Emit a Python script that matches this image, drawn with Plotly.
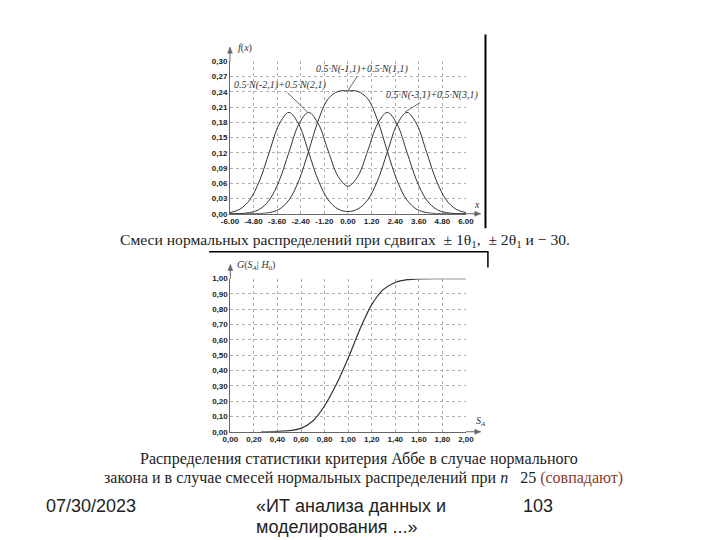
import plotly.graph_objects as go

# ---------------- data ----------------
x_top = [-6.0, -5.5, -5.0, -4.5, -4.0, -3.5, -3.0, -2.5, -2.0, -1.5, -1.0, -0.5,
         0.0, 0.5, 1.0, 1.5, 2.0, 2.5, 3.0, 3.5, 4.0, 4.5, 5.0, 5.5, 6.0]
mix1 = [0.0, 0.0, 0.0001, 0.0004, 0.0022, 0.0088, 0.0271, 0.0652, 0.1232, 0.1848, 0.2265, 0.2408,
        0.2420, 0.2408, 0.2265, 0.1848, 0.1232, 0.0652, 0.0271, 0.0088, 0.0022, 0.0004, 0.0001, 0.0, 0.0]
mix2 = [0.0001, 0.0004, 0.0022, 0.0088, 0.0270, 0.0648, 0.1210, 0.1760, 0.1995, 0.1765, 0.1232, 0.0735,
        0.0540, 0.0735, 0.1232, 0.1765, 0.1995, 0.1760, 0.1210, 0.0648, 0.0270, 0.0088, 0.0022, 0.0004, 0.0001]
mix3 = [0.0022, 0.0088, 0.0270, 0.0648, 0.1210, 0.1760, 0.1995, 0.1760, 0.1210, 0.0648, 0.0271, 0.0092,
        0.0044, 0.0092, 0.0271, 0.0648, 0.1210, 0.1760, 0.1995, 0.1760, 0.1210, 0.0648, 0.0270, 0.0088, 0.0022]

top_xticks = [-6.0, -4.8, -3.6, -2.4, -1.2, 0.0, 1.2, 2.4, 3.6, 4.8, 6.0]
top_xlabels = ["-6.00", "-4.80", "-3.60", "-2.40", "-1.20", "0.00", "1.20", "2.40", "3.60", "4.80", "6.00"]
top_yticks = [0.0, 0.03, 0.06, 0.09, 0.12, 0.15, 0.18, 0.21, 0.24, 0.27, 0.30]
top_ylabels = ["0,00", "0,03", "0,06", "0,09", "0,12", "0,15", "0,18", "0,21", "0,24", "0,27", "0,30"]

x_bot = [0.26, 0.30, 0.40, 0.50, 0.60, 0.70, 0.80, 0.90, 1.00, 1.10, 1.20, 1.30, 1.40, 1.50, 1.60, 1.80, 2.00]
g_bot = [0.0, 0.0, 0.002, 0.007, 0.022, 0.07, 0.17, 0.31, 0.48, 0.67, 0.83, 0.93, 0.975, 0.993, 0.999, 1.0, 1.0]

bot_xticks = [0.0, 0.2, 0.4, 0.6, 0.8, 1.0, 1.2, 1.4, 1.6, 1.8, 2.0]
bot_xlabels = ["0,00", "0,20", "0,40", "0,60", "0,80", "1,00", "1,20", "1,40", "1,60", "1,80", "2,00"]
bot_yticks = [0.0, 0.1, 0.2, 0.3, 0.4, 0.5, 0.6, 0.7, 0.8, 0.9, 1.0]
bot_ylabels = ["0,00", "0,10", "0,20", "0,30", "0,40", "0,50", "0,60", "0,70", "0,80", "0,90", "1,00"]

W, H = 720, 540
def px(x): return x / W
def py(y): return 1 - y / H

LINE = "#333333"
fig = go.Figure()
for ys in (mix1, mix2, mix3):
    fig.add_trace(go.Scatter(x=x_top, y=ys, mode="lines", line=dict(color=LINE, width=1, shape="spline", smoothing=1),
                             xaxis="x", yaxis="y", showlegend=False, hoverinfo="skip"))
fig.add_trace(go.Scatter(x=x_bot, y=g_bot, mode="lines", line=dict(color=LINE, width=1.2, shape="spline", smoothing=0.8),
                         xaxis="x2", yaxis="y2", showlegend=False, hoverinfo="skip"))

tickfont = dict(family="Liberation Sans, Arial", size=8, color="#222222", weight="bold")
grid = dict(showgrid=True, gridcolor="#b0b0b0", griddash="dot", gridwidth=1,
            showline=True, linecolor="#666666", linewidth=1, zeroline=False,
            ticks="", tickfont=tickfont, fixedrange=True)

fig.update_layout(
    width=W, height=H, margin=dict(l=0, r=0, t=0, b=0),
    paper_bgcolor="white", plot_bgcolor="white", showlegend=False,
    xaxis=dict(domain=[px(226.3), px(468)], range=[-6, 6], tickvals=top_xticks, ticktext=top_xlabels,
               anchor="y", **grid),
    yaxis=dict(domain=[py(213.3), py(58.3)], range=[0, 0.3], tickvals=top_yticks, ticktext=top_ylabels,
               anchor="x", **grid),
    xaxis2=dict(domain=[px(226.7), px(468)], range=[0, 2], tickvals=bot_xticks, ticktext=bot_xlabels,
                anchor="y2", **grid),
    yaxis2=dict(domain=[py(435), py(279.3)], range=[0, 1], tickvals=bot_yticks, ticktext=bot_ylabels,
                anchor="x2", **grid),
)

ann = []
lab = dict(family="Liberation Serif, Times New Roman", size=10, color="#333333")
ann += [
    dict(x=px(233), y=py(45), xref="paper", yref="paper", text="<i>f</i>(<i>x</i>)", showarrow=False,
         xanchor="left", yanchor="middle", font=lab),
    dict(x=px(479), y=py(204), xref="paper", yref="paper", text="<i>x</i>", showarrow=False,
         xanchor="center", yanchor="middle", font=lab),
    dict(x=px(231), y=py(266), xref="paper", yref="paper", text="<i>G</i>(<i>S<sub>A</sub></i>| <i>H</i><sub>0</sub>)",
         showarrow=False, xanchor="left", yanchor="middle", font=lab),
    dict(x=px(483), y=py(425), xref="paper", yref="paper", text="<i>S<sub>A</sub></i>", showarrow=False,
         xanchor="center", yanchor="middle", font=lab),
]

curve_font = dict(family="Liberation Serif, Times New Roman", size=10, color="#333333")
for (cx, cy, txt, ax, ay) in [
    (0.0, 0.242, "<i>0.5·N(-1,1)+0.5·N(1,1)</i>", 14, -22),
    (-2.05, 0.2, "<i>0.5·N(-2,1)+0.5·N(2,1)</i>", -28, -27),
    (2.9, 0.2, "<i>0.5·N(-3,1)+0.5·N(3,1)</i>", 27, -17),
]:
    ann.append(dict(x=cx, y=cy, xref="x", yref="y", text=txt, showarrow=True, arrowhead=0,
                    arrowwidth=0.8, arrowcolor="#444444", ax=ax, ay=ay, font=curve_font))

cap = dict(family="Liberation Serif, Times New Roman", size=16, color="#222222")
ann += [
    dict(x=px(112), y=py(241), xref="paper", yref="paper", xanchor="left", yanchor="middle", showarrow=False,
         text="Смеси нормальных распределений при сдвигах  ± 1θ<sub>1</sub>,  ± 2θ<sub>1</sub> и − 30.",
         font=dict(family="Liberation Serif, Times New Roman", size=15.6, color="#222222")),
    dict(x=px(132), y=py(463), xref="paper", yref="paper", xanchor="left", yanchor="middle", showarrow=False,
         text="Распределения статистики критерия Аббе в случае нормального", font=cap),
    dict(x=px(95), y=py(482), xref="paper", yref="paper", xanchor="left", yanchor="middle", showarrow=False,
         text="закона и в случае смесей нормальных распределений при <i>n</i>   25 "
              "<span style='color:#8b3a2a'>(совпадают)</span>", font=cap),
]

foot = dict(family="Liberation Sans, Arial", size=18, color="#222222")
ann += [
    dict(x=px(36), y=py(511), xref="paper", yref="paper", xanchor="left", yanchor="middle", showarrow=False,
         text="07/30/2023", font=foot),
    dict(x=px(251), y=py(511), xref="paper", yref="paper", xanchor="left", yanchor="middle", showarrow=False,
         text="«ИТ анализа данных и", font=foot),
    dict(x=px(251), y=py(532), xref="paper", yref="paper", xanchor="left", yanchor="middle", showarrow=False,
         text="моделирования ...»", font=foot),
    dict(x=px(524), y=py(511), xref="paper", yref="paper", xanchor="left", yanchor="middle", showarrow=False,
         text="103", font=foot),
]
fig.update_layout(annotations=ann)

AX = "#666666"
def hline_arrow(x0, x1, y):
    return [dict(type="line", xref="paper", yref="paper", x0=px(x0), x1=px(x1), y0=py(y), y1=py(y),
                 line=dict(color=AX, width=1)),
            dict(type="path", xref="paper", yref="paper",
                 path=f"M {px(x1)},{py(y)} L {px(x1-6)},{py(y-2.5)} L {px(x1-6)},{py(y+2.5)} Z",
                 fillcolor=AX, line=dict(color=AX, width=0.5))]
def vline_arrow(x, y0, y1):
    return [dict(type="line", xref="paper", yref="paper", x0=px(x), x1=px(x), y0=py(y0), y1=py(y1),
                 line=dict(color=AX, width=1)),
            dict(type="path", xref="paper", yref="paper",
                 path=f"M {px(x)},{py(y1)} L {px(x-2.5)},{py(y1+6)} L {px(x+2.5)},{py(y1+6)} Z",
                 fillcolor=AX, line=dict(color=AX, width=0.5))]

shapes = []
shapes += hline_arrow(468, 483, 213.3)
shapes += vline_arrow(226.3, 58.3, 44)
shapes += hline_arrow(468, 483, 435)
shapes += vline_arrow(226.7, 279.3, 265)
shapes += [
    dict(type="line", xref="paper", yref="paper", x0=px(488), x1=px(488), y0=py(31), y1=py(228),
         line=dict(color="black", width=2)),
    dict(type="line", xref="paper", yref="paper", x0=px(205), x1=px(491), y0=py(252), y1=py(252),
         line=dict(color="black", width=1.5)),
    dict(type="line", xref="paper", yref="paper", x0=px(490.5), x1=px(490.5), y0=py(252), y1=py(268),
         line=dict(color="black", width=1.5)),
]
fig.update_layout(shapes=shapes)

fig.write_html("out.html")
